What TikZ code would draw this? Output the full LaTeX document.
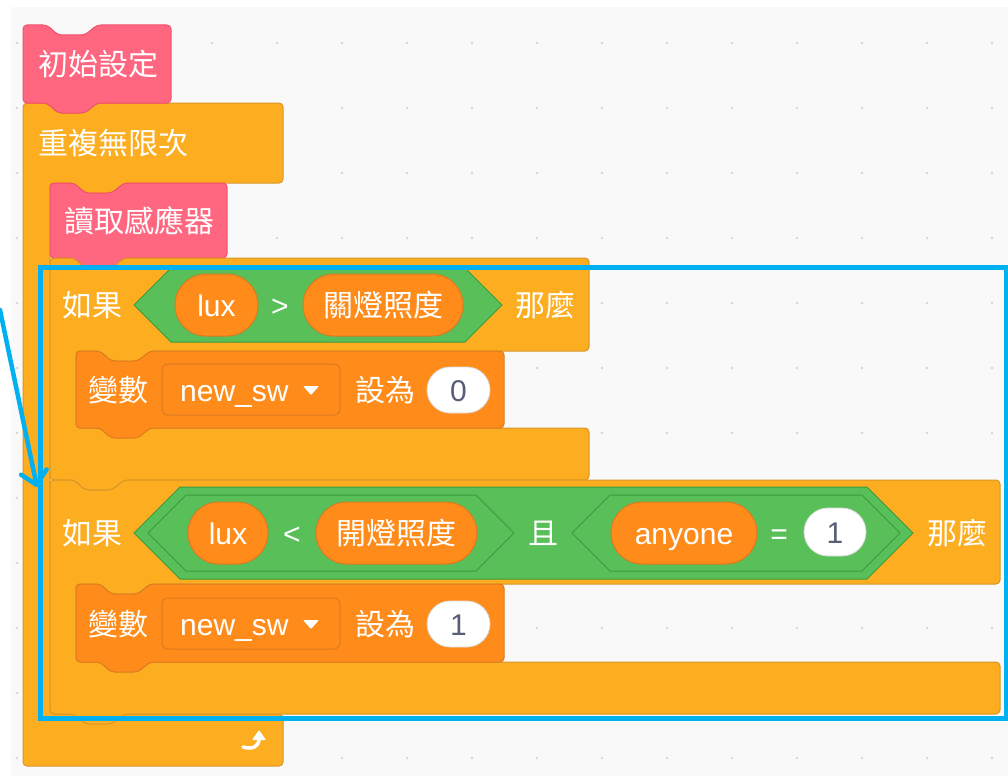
\documentclass[tikz,border=0pt]{standalone}
\usepackage{fontspec}
\newfontfamily\cjkf{Noto Sans CJK TC}
\newfontfamily\latf{Liberation Sans}
\usetikzlibrary{arrows.meta}
\definecolor{bggray}{HTML}{F9F9F9}
\definecolor{dotgray}{HTML}{D6D6D6}
\definecolor{ctrlfill}{HTML}{FDAD20}
\definecolor{ctrlline}{HTML}{D9952A}
\definecolor{pinkfill}{HTML}{FF6680}
\definecolor{pinkline}{HTML}{F2506C}
\definecolor{varfill}{HTML}{FF8C1A}
\definecolor{varline}{HTML}{DB7A20}
\definecolor{opfill}{HTML}{59C059}
\definecolor{opline}{HTML}{3C9A3C}
\definecolor{numtext}{HTML}{575E75}
\definecolor{hl}{HTML}{00B0F0}
\newcommand{\sbNotch}[2]{-- (#1+24,#2) -- (#1+35,#2+10) -- (#1+62,#2+10) -- (#1+74,#2)}
\newcommand{\sbBump}[2]{-- (#1+74,#2) -- (#1+62,#2+10) -- (#1+35,#2+10) -- (#1+24,#2)}
\tikzset{
  ctrlb/.style={fill=ctrlfill, draw=ctrlline, line width=1pt, rounded corners=4pt},
  pinkb/.style={fill=pinkfill, draw=pinkline, line width=1pt, rounded corners=4pt},
  varb/.style={fill=varfill, draw=varline, line width=1pt, rounded corners=4pt},
  hexb/.style={fill=opfill, draw=opline, line width=1pt, line join=round},
  lbl/.style={text=white, font=\cjkf\fontsize{30}{32}\selectfont, inner sep=0pt, text height=23pt, text depth=0pt, anchor=west},
  ltxt/.style={text=white, font=\latf\fontsize{30}{32}\selectfont, inner sep=0pt, text height=22pt, text depth=0pt},
  pill/.style={fill=varfill, draw=varline, line width=1pt, inner sep=0pt, text=white, font=\latf\fontsize{30}{32}\selectfont, text height=22pt, text depth=0pt},
  cpill/.style={fill=varfill, draw=varline, line width=1pt, inner sep=0pt, text=white, font=\cjkf\fontsize{30}{32}\selectfont, text height=23pt, text depth=0pt},
  numpill/.style={fill=white, draw=white!85!black, line width=0.8pt, inner sep=0pt, text=numtext, font=\latf\fontsize{30}{32}\selectfont, text height=22pt, text depth=0pt},
  dropb/.style={fill=varfill, draw=varline, line width=1pt, rounded corners=6pt, inner sep=0pt},
}
\begin{document}
\begin{tikzpicture}[x=1pt,y=-1pt]
\useasboundingbox (0,0) rectangle (1008,776);
\fill[white] (0,0) rectangle (1008,776);
\fill[bggray] (11,7) rectangle (1008,776);
\foreach \i in {0,...,15}{\foreach \j in {0,...,11}{\fill[dotgray] (17+65*\i,43+65*\j) circle (1.4pt);}}

% forever block
\draw[ctrlb] (23,103) \sbNotch{23}{103} -- (283,103) -- (283,183) \sbBump{50}{183} -- (50,183) -- (50,714) -- (283,714) -- (283,766) -- (23,766) -- cycle;
\node[lbl] (forever) at (38,143) {重複無限次};
\draw[white, line width=3.5pt, line cap=round] (243,747) .. controls (253,750) and (259,746) .. (259,739);
\fill[white, rounded corners=1pt] (252,740) -- (259,730) -- (266,740) -- cycle;

% init block
\draw[pinkb] (23,25) \sbNotch{23}{25} -- (171,25) -- (171,103) \sbBump{23}{103} -- (23,103) -- cycle;
\node[lbl] (init) at (38,64) {初始設定};

% read sensor block
\draw[pinkb] (50,183) \sbNotch{50}{183} -- (227,183) -- (227,258) \sbBump{50}{258} -- (50,258) -- cycle;
\node[lbl] (read) at (64,221) {讀取感應器};

% if block 1
\draw[ctrlb] (50,258) \sbNotch{50}{258} -- (589,258) -- (589,351) \sbBump{76}{351} -- (76,351) -- (76,428) -- (589,428) -- (589,480) \sbBump{50}{480} -- (50,480) -- cycle;
\node[lbl] (ifA) at (62,305) {如果};
\node[lbl] (thenA) at (515,305) {那麼};
\draw[hexb] (134,305) -- (171,268) -- (465,268) -- (502,305) -- (465,342) -- (171,342) -- cycle;
\node[pill, minimum width=83pt, minimum height=62pt, rounded corners=31pt] (luxA) at (216.5,305) {lux};
\node[ltxt] (gt) at (280,305) {>};
\node[cpill, minimum width=160pt, minimum height=62pt, rounded corners=31pt] (off) at (383,305) {關燈照度};

% set block 1
\draw[varb] (76,351) \sbNotch{76}{351} -- (504,351) -- (504,428) \sbBump{76}{428} -- (76,428) -- cycle;
\node[lbl] (varA) at (88,390) {變數};
\node[dropb, minimum width=178pt, minimum height=51pt] (ddA) at (251,389.5) {};
\node[ltxt, anchor=west] (swA) at (180,390) {new\_sw};
\fill[white, rounded corners=1pt] (303,386) -- (319,386) -- (311,395) -- cycle;
\node[lbl] (setA) at (355,390) {設為};
\node[numpill, minimum width=63pt, minimum height=46pt, rounded corners=23pt] (zero) at (458.5,390) {0};

% if block 2
\draw[ctrlb] (50,480) \sbNotch{50}{480} -- (1000,480) -- (1000,584) \sbBump{76}{584} -- (76,584) -- (76,662) -- (1000,662) -- (1000,714) \sbBump{50}{714} -- (50,714) -- cycle;
\node[lbl] (ifB) at (62,533) {如果};
\node[lbl] (thenB) at (927,533) {那麼};
\draw[hexb] (134,533) -- (180,487) -- (867,487) -- (913,533) -- (867,579) -- (180,579) -- cycle;
\draw[hexb] (148,533) -- (186,495) -- (476,495) -- (514,533) -- (476,571) -- (186,571) -- cycle;
\draw[hexb] (572,533) -- (610,495) -- (862,495) -- (900,533) -- (862,571) -- (610,571) -- cycle;
\node[pill, minimum width=80pt, minimum height=62pt, rounded corners=31pt] (luxB) at (228,533) {lux};
\node[ltxt] (lt) at (292,533) {<};
\node[cpill, minimum width=161pt, minimum height=62pt, rounded corners=31pt] (on) at (396.5,533) {開燈照度};
\node[lbl, anchor=center] (and) at (543,533) {且};
\node[pill, minimum width=146pt, minimum height=62pt, rounded corners=31pt] (any) at (684,533) {anyone};
\node[ltxt] (eq) at (779,533) {=};
\node[numpill, minimum width=62pt, minimum height=48pt, rounded corners=24pt] (oneA) at (835,532) {1};

% set block 2
\draw[varb] (76,584) \sbNotch{76}{584} -- (504,584) -- (504,662) \sbBump{76}{662} -- (76,662) -- cycle;
\node[lbl] (varB) at (88,624) {變數};
\node[dropb, minimum width=178pt, minimum height=51pt] (ddB) at (251,623.5) {};
\node[ltxt, anchor=west] (swB) at (180,624) {new\_sw};
\fill[white, rounded corners=1pt] (303,620) -- (319,620) -- (311,629) -- cycle;
\node[lbl] (setB) at (355,624) {設為};
\node[numpill, minimum width=63pt, minimum height=46pt, rounded corners=23pt] (oneB) at (458.5,624) {1};

% highlight frame and arrow
\node[draw=hl, line width=5pt, minimum width=966pt, minimum height=451pt, inner sep=0pt, anchor=north west] (frame) at (38,265) {};
\coordinate (astart) at (0,310);
\coordinate (atip) at (37,487);
\draw[hl, line width=4.5pt, line cap=round, -{Straight Barb[length=13pt,width=26pt,round]}] (astart) -- (atip);
\end{tikzpicture}
\end{document}
